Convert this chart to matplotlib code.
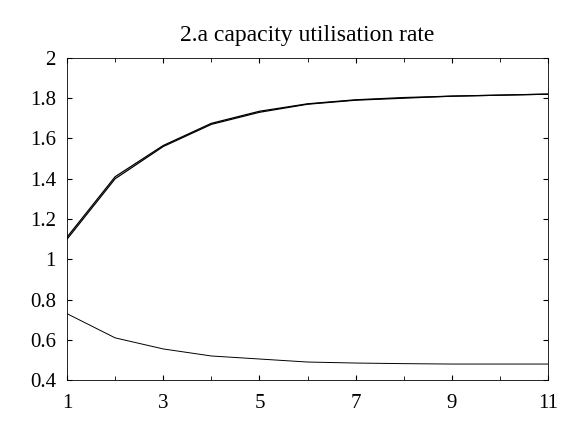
import matplotlib
matplotlib.use('Agg')
import numpy as np
import matplotlib.pyplot as plt

periods = [1, 2, 3, 4, 5, 6, 7, 8, 9, 10, 11]
upper_a = [1.10, 1.40, 1.56, 1.67, 1.73, 1.77, 1.79, 1.80, 1.81, 1.815, 1.82]
upper_b = [1.11, 1.41, 1.565, 1.675, 1.735, 1.772, 1.792, 1.803, 1.81, 1.815, 1.82]
lower = [0.73, 0.61, 0.555, 0.52, 0.505, 0.49, 0.485, 0.482, 0.48, 0.48, 0.48]

plt.rcParams['font.family'] = ['Liberation Serif', 'DejaVu Serif']
fig = plt.figure(figsize=(5.68, 4.32), dpi=100)
ax = fig.add_axes([0.118, 0.12, 0.847, 0.746])
ax.plot(periods, upper_a, color='black', lw=0.9)
ax.plot(periods, upper_b, color='black', lw=0.9)
ax.plot(periods, lower, color='black', lw=0.7)
ax.set_xlim(1, 11)
ax.set_ylim(0.4, 2)
ax.set_xticks([1, 3, 5, 7, 9, 11])
ax.set_xticks(periods, minor=True)
ax.set_yticks(np.arange(0.4, 2.01, 0.2))
ax.set_yticklabels(['0.4', '0.6', '0.8', '1', '1.2', '1.4', '1.6', '1.8', '2'])
ax.tick_params(direction='in', top=True, right=True, which='both', labelsize=15)
ax.tick_params(axis='x', pad=10)
ax.tick_params(axis='y', pad=8)
ax.tick_params(which='minor', length=3)
for s in ax.spines.values():
    s.set_linewidth(0.6)
ax.set_title('2.a capacity utilisation rate', fontsize=17, pad=12)
fig.savefig('out.png')
